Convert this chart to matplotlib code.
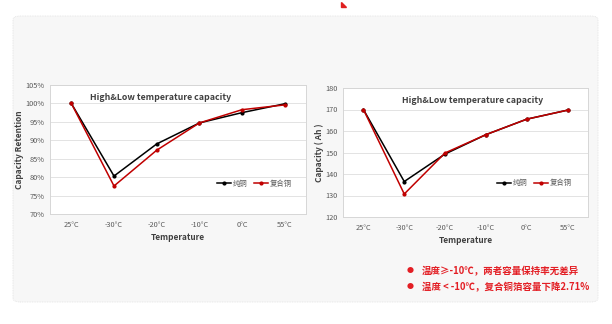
import matplotlib.pyplot as plt
from matplotlib.patches import FancyBboxPatch, Polygon

plt.rcParams['font.family'] = ['Noto Sans CJK SC', 'DejaVu Sans']

# data
temps = ["25°C", "-30°C", "-20°C", "-10°C", "0°C", "55°C"]
retention_pure = [100.0, 80.3, 89.0, 94.7, 97.5, 99.9]
retention_comp = [100.0, 77.6, 87.3, 94.7, 98.3, 99.6]
capacity_pure = [170.0, 136.5, 149.3, 158.3, 165.5, 169.7]
capacity_comp = [170.0, 130.7, 149.8, 158.3, 165.5, 169.7]
labels = ["纯铜", "复合铜"]
notes = ["温度≥-10℃，两者容量保持率无差异",
         "温度 < -10℃，复合铜箔容量下降2.71%"]

W, H = 612, 324
fig = plt.figure(figsize=(W / 100, H / 100), dpi=100)
fig.patch.set_facecolor("white")

def box(x0, y0, x1, y1):
    # pixel box (top-left origin) -> figure fraction rect
    return [x0 / W, 1 - y1 / H, (x1 - x0) / W, (y1 - y0) / H]

# grey card behind the charts
card = FancyBboxPatch((13 / W, 1 - 302 / H), 585 / W, 286 / H,
                      boxstyle="round,pad=0,rounding_size=0.012",
                      transform=fig.transFigure, facecolor="#f7f7f7",
                      edgecolor="#e2e2e2", linewidth=0.6, linestyle=(0, (1, 1)),
                      zorder=-5)
fig.patches.append(card)

# little red mark at top
tri = Polygon([(341 / W, 1 - 2 / H), (341 / W, 1 - 7 / H), (346 / W, 1 - 7 / H)],
              closed=True, transform=fig.transFigure, color="#e02020", zorder=-5)
fig.patches.append(tri)

RED = "#c00000"
BLACK = "#000000"
x = range(len(temps))

def draw(ax, pure, comp, ylim, yticks, ytl, ylabel, title_x, leg_xy):
    ax.set_facecolor("white")
    ax.plot(x, pure, color=BLACK, lw=1.1, marker="o", ms=2.0, label=labels[0], zorder=3)
    ax.plot(x, comp, color=RED, lw=1.1, marker="o", ms=2.0, label=labels[1], zorder=3)
    ax.set_xlim(-0.5, len(temps) - 0.5)
    ax.set_ylim(*ylim)
    ax.set_yticks(yticks)
    ax.set_yticklabels(ytl)
    ax.set_xticks(list(x))
    ax.set_xticklabels(temps)
    ax.tick_params(length=0, labelsize=5.3, labelcolor="#595959", pad=4)
    ax.tick_params(axis="x", pad=5)
    ax.grid(axis="y", color="#e3e3e3", lw=0.7)
    ax.set_axisbelow(True)
    for s in ax.spines.values():
        s.set_color("#d6d6d6")
        s.set_linewidth(0.7)
    ax.text(title_x, 0.905, "High&Low temperature capacity", transform=ax.transAxes,
            fontsize=6.3, fontweight="bold", color="#404040", ha="center", va="center")
    ax.set_xlabel("Temperature", fontsize=6, fontweight="bold", color="#404040", labelpad=3)
    ax.set_ylabel(ylabel, fontsize=6, fontweight="bold", color="#404040", labelpad=1)
    leg = ax.legend(loc="center right", bbox_to_anchor=leg_xy, ncol=2, frameon=False,
                    fontsize=5.3, handlelength=1.9, columnspacing=1.0, handletextpad=0.2,
                    borderaxespad=0, borderpad=0)
    for t in leg.get_texts():
        t.set_color("#595959")

ax1 = fig.add_axes(box(50, 85, 306, 214))
draw(ax1, retention_pure, retention_comp, (70, 105), range(70, 106, 5),
     [f"{v}%" for v in range(70, 106, 5)], "Capacity Retention", 0.43, (0.945, 0.235))

ax2 = fig.add_axes(box(343, 88, 588, 217))
draw(ax2, capacity_pure, capacity_comp, (120, 180), range(120, 181, 10),
     [str(v) for v in range(120, 181, 10)], "Capacity ( Ah )", 0.53, (0.935, 0.26))

# bullet notes
for i, note in enumerate(notes):
    yy = 1 - (271 + 16 * i) / H
    fig.text(410 / W, yy, "●", fontsize=5, color="#e31e24", va="center", ha="center")
    fig.text(422 / W, yy, note, fontsize=6.8, fontweight="bold", color="#e31e24", va="center")

fig.savefig("out.png", dpi=100)
